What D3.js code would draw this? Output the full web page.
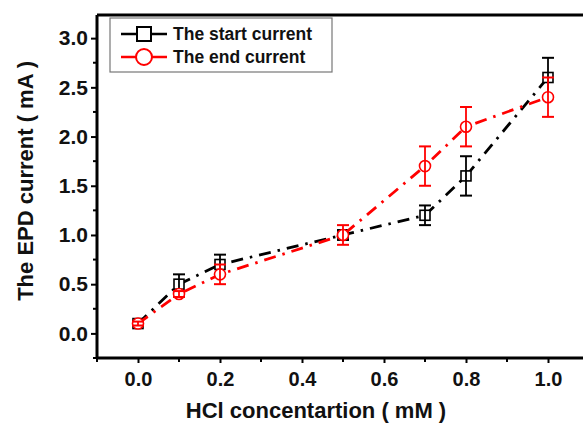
<!DOCTYPE html>
<html><head><meta charset="utf-8">
<script src="https://cdn.jsdelivr.net/npm/d3@7"></script>
<style>body{margin:0;background:#fff}svg{display:block;font-family:Arial,"Liberation Sans",sans-serif;font-weight:bold}</style>
</head><body><svg id="c" width="583" height="423"></svg>
<script>
const xVals = [0, 0.1, 0.2, 0.5, 0.7, 0.8, 1.0];
const startCurrent = [0.1, 0.5, 0.7, 1.0, 1.2, 1.6, 2.6];
const startErr = [0.02, 0.1, 0.1, 0.05, 0.1, 0.2, 0.2];
const endCurrent = [0.1, 0.4, 0.6, 1.0, 1.7, 2.1, 2.4];
const endErr = [0.02, 0.03, 0.1, 0.1, 0.2, 0.2, 0.2];
const xTicks = [0, 0.2, 0.4, 0.6, 0.8, 1.0];
const yTicks = [0, 0.5, 1.0, 1.5, 2.0, 2.5, 3.0];
const seriesNames = ["The start current", "The end current"];
const seriesColors = ["#000000", "#ff0000"];

const svg = d3.select("#c");
const x = d3.scaleLinear().domain([-0.1, 1.1]).range([97, 589]);
const y = d3.scaleLinear().domain([-0.25, 3.235]).range([358, 15]);
const FONT = "Arial, 'Liberation Sans', sans-serif";

// frame top line
svg.append("line").attr("x1", x(-0.1)).attr("x2", 583).attr("y1", y(3.235)).attr("y2", y(3.235))
  .attr("stroke", "#000").attr("stroke-width", 3);

// x axis
const xAxis = svg.append("g").attr("transform", `translate(0,${y(-0.25)})`)
  .call(d3.axisBottom(x).tickValues(xTicks).tickFormat(d3.format(".1f")).tickSize(5).tickPadding(9));
xAxis.select(".domain").attr("stroke-width", 3).attr("d", `M${x(-0.1)},0H583`);
xAxis.selectAll(".tick line").attr("stroke-width", 2);
xAxis.selectAll("text").attr("font-size", 20).attr("font-weight", "bold").attr("font-family", FONT).attr("fill", "#111");
svg.append("g").attr("transform", `translate(0,${y(-0.25)})`)
  .selectAll("line").data([-0.1, 0.1, 0.3, 0.5, 0.7, 0.9]).join("line")
  .attr("x1", d => x(d)).attr("x2", d => x(d)).attr("y1", 0).attr("y2", 4)
  .attr("stroke", "#000").attr("stroke-width", 2);

// y axis
const yAxis = svg.append("g").attr("transform", `translate(${x(-0.1)},0)`)
  .call(d3.axisLeft(y).tickValues(yTicks).tickFormat(d3.format(".1f")).tickSize(6).tickPadding(3));
yAxis.select(".domain").attr("stroke-width", 3).attr("d", `M0,${y(-0.25)}V${y(3.235)}`);
yAxis.selectAll(".tick line").attr("stroke-width", 2);
yAxis.selectAll("text").attr("font-size", 21).attr("font-weight", "bold").attr("font-family", FONT).attr("fill", "#111");
svg.append("g").attr("transform", `translate(${x(-0.1)},0)`)
  .selectAll("line").data([-0.25, 0.25, 0.75, 1.25, 1.75, 2.25, 2.75]).join("line")
  .attr("y1", d => y(d)).attr("y2", d => y(d)).attr("x1", 0).attr("x2", -4)
  .attr("stroke", "#000").attr("stroke-width", 2);

// axis titles
svg.append("text").attr("x", 316).attr("y", 418).attr("text-anchor", "middle")
  .attr("font-size", 22).attr("fill", "#111").text("HCl concentartion ( mM )");
svg.append("text").attr("transform", `translate(33,${y(1.55)}) rotate(-90)`).attr("text-anchor", "middle")
  .attr("font-size", 22).attr("fill", "#111").text("The EPD current ( mA )");

const line = d3.line().x(d => x(d[0])).y(d => y(d[1]));
const series = [
  {vals: startCurrent, err: startErr, color: seriesColors[0], shape: "square"},
  {vals: endCurrent, err: endErr, color: seriesColors[1], shape: "circle"}
];

series.forEach(s => {
  const pts = xVals.map((v, i) => [v, s.vals[i], s.err[i]]);
  const g = svg.append("g");
  g.append("path").attr("d", line(pts)).attr("fill", "none").attr("stroke", s.color)
    .attr("stroke-width", 2.8).attr("stroke-dasharray", "12,7,2.5,7");
  // markers
  if (s.shape === "square") {
    g.selectAll("rect").data(pts).join("rect")
      .attr("x", d => x(d[0]) - 5).attr("y", d => y(d[1]) - 5).attr("width", 10).attr("height", 10)
      .attr("fill", "#fff").attr("stroke", s.color).attr("stroke-width", 1.6);
  } else {
    g.selectAll("circle").data(pts).join("circle")
      .attr("cx", d => x(d[0])).attr("cy", d => y(d[1])).attr("r", 5.5)
      .attr("fill", "#fff").attr("stroke", s.color).attr("stroke-width", 1.6);
  }
  // error bars (drawn over markers)
  pts.forEach(p => {
    const cx = x(p[0]);
    const y1 = y(p[1] + p[2]), y2 = y(p[1] - p[2]);
    g.append("line").attr("x1", cx).attr("x2", cx).attr("y1", y1).attr("y2", y2).attr("stroke", s.color).attr("stroke-width", 1.8);
    g.append("line").attr("x1", cx - 6).attr("x2", cx + 6).attr("y1", y1).attr("y2", y1).attr("stroke", s.color).attr("stroke-width", 2);
    g.append("line").attr("x1", cx - 6).attr("x2", cx + 6).attr("y1", y2).attr("y2", y2).attr("stroke", s.color).attr("stroke-width", 2);
  });
});

// legend
const lg = svg.append("g");
lg.append("rect").attr("x", 110).attr("y", 18).attr("width", 222).attr("height", 54)
  .attr("fill", "#fff").attr("stroke", "#777").attr("stroke-width", 1.2);
seriesNames.forEach((name, i) => {
  const ly = 34 + i * 23;
  lg.append("line").attr("x1", 121).attr("x2", 167).attr("y1", ly).attr("y2", ly)
    .attr("stroke", seriesColors[i]).attr("stroke-width", 2.6);
  if (i === 0) {
    lg.append("rect").attr("x", 137).attr("y", ly - 7).attr("width", 14).attr("height", 14)
      .attr("fill", "#fff").attr("stroke", "#000").attr("stroke-width", 2);
  } else {
    lg.append("circle").attr("cx", 144).attr("cy", ly).attr("r", 8)
      .attr("fill", "#fff").attr("stroke", "#ff0000").attr("stroke-width", 2);
  }
  lg.append("text").attr("x", 173).attr("y", ly + 6).attr("font-size", 17.5).attr("fill", "#111").text(name);
});
</script></body></html>
